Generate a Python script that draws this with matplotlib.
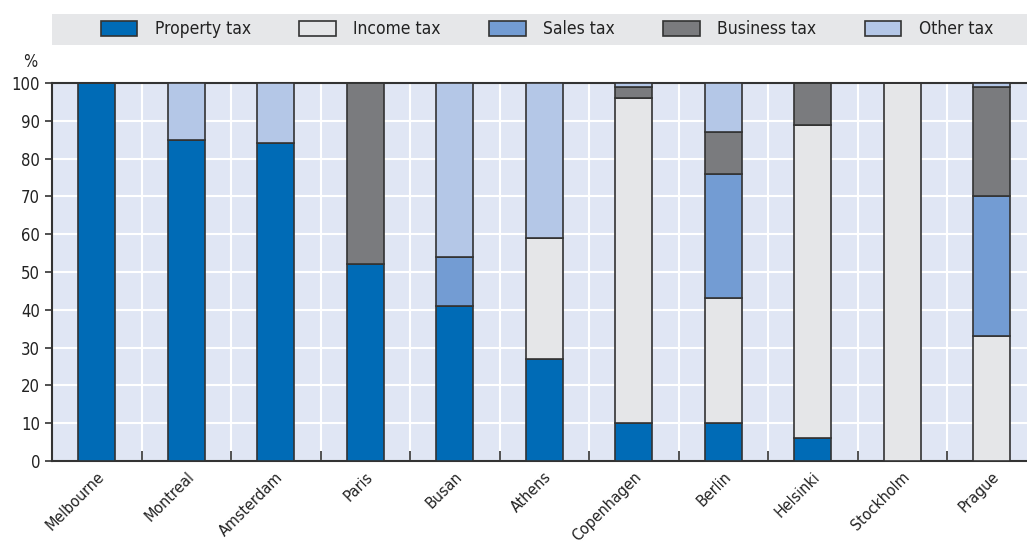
import matplotlib.pyplot as plt
import numpy as np
from matplotlib.patches import Rectangle

plt.rcParams['font.family'] = ['DejaVu Sans']
plt.rcParams['font.stretch'] = 'condensed'

villes = ["Melbourne", "Montreal", "Amsterdam", "Paris", "Busan", "Athens",
          "Copenhagen", "Berlin", "Helsinki", "Stockholm", "Prague"]
# parts en % par type d'impot
propriete = [100, 85, 84, 52, 41, 27, 10, 10, 6, 0, 0]
revenu = [0, 0, 0, 0, 0, 32, 86, 33, 83, 100, 33]
ventes = [0, 0, 0, 0, 13, 0, 0, 33, 0, 0, 37]
entreprise = [0, 0, 0, 48, 0, 0, 3, 11, 11, 0, 29]
autre = [0, 15, 16, 0, 46, 41, 1, 13, 0, 0, 1]

series = [propriete, revenu, ventes, entreprise, autre]
noms = ["Property tax", "Income tax", "Sales tax", "Business tax", "Other tax"]
couleurs = ["#006bb6", "#e5e6e8", "#739cd3", "#7a7b7e", "#b4c7e7"]

fig = plt.figure(figsize=(10.27, 5.43), dpi=100)
ax = fig.add_axes([52/1027, 1-461/543, 1-52/1027, (461-83)/543])
ax.set_facecolor("#e0e6f4")

x = np.arange(len(villes))
bas = np.zeros(len(villes))
for s, nom, c in zip(series, noms, couleurs):
    v = np.array(s, dtype=float)
    ax.bar(x, v, width=0.41, bottom=bas, color=c, edgecolor="#333333",
           linewidth=1.2, label=nom, zorder=3)
    bas += v

ax.set_xlim(-0.5, (1027-52)/89.5 - 0.5)
ax.set_ylim(0, 100)
ax.set_yticks(range(0, 101, 10))
ax.set_xticks(x)
ax.set_xticklabels(villes, rotation=45, ha="right", rotation_mode="anchor",
                   fontsize=11.5, color="#222222")
ax.set_xticks(x[:-1] + 0.5, minor=True)
ax.tick_params(axis="x", which="major", length=0, pad=6)
ax.tick_params(axis="x", which="minor", direction="in", length=7, width=1.2,
               color="#333333")
ax.tick_params(axis="y", length=5, width=1.2, color="#333333",
               labelsize=12, labelcolor="#222222")
ax.grid(axis="y", color="white", linewidth=1.5, zorder=1)
ax.grid(axis="x", which="minor", color="white", linewidth=1.5, zorder=1)
ax.set_axisbelow(True)
for cote in ["left", "bottom", "top"]:
    ax.spines[cote].set_color("#333333")
    ax.spines[cote].set_linewidth(1.5)
ax.spines["right"].set_visible(False)

fig.text(30/1027, 1-62/543, "%", ha="center", va="center", fontsize=12,
         color="#222222")

# bandeau de legende
fig.patches.append(Rectangle((52/1027, 1-45/543), 1-52/1027, 31/543,
                             transform=fig.transFigure, facecolor="#e6e7e9",
                             edgecolor="none", zorder=0))
fig.legend(loc="center", bbox_to_anchor=(547/1027, 1-29.5/543), ncol=5,
           frameon=False, fontsize=12.5, handlelength=2.1, handleheight=1.0,
           handletextpad=1.0, columnspacing=2.8, labelcolor="#222222")

plt.savefig("out.png", dpi=100)
